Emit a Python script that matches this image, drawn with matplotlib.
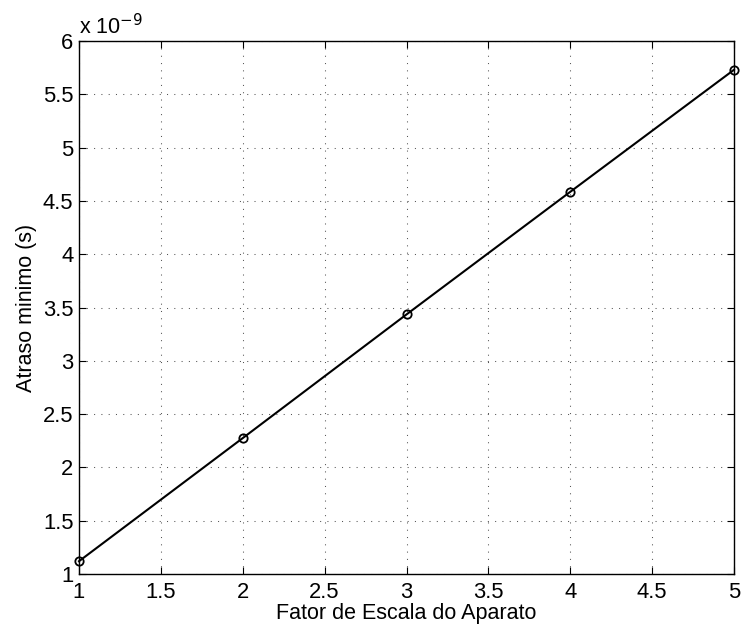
import matplotlib
matplotlib.use("Agg")
import matplotlib.pyplot as plt
from matplotlib.ticker import FuncFormatter, MultipleLocator

plt.rcParams['font.family'] = ['Liberation Sans', 'DejaVu Sans']

scale_factor = [1, 2, 3, 4, 5]
delay_s = [1.12e-9, 2.275e-9, 3.435e-9, 4.585e-9, 5.73e-9]

fs = 15.5
fig = plt.figure(figsize=(7.42, 6.28), dpi=100)
ax = fig.add_axes([79/742, 1 - 574/628, (734-79)/742, (574-41)/628])
ax.plot(scale_factor, delay_s, color='black', lw=1.5, marker='o', ms=6,
        mfc='none', mec='black', mew=1.3, clip_on=False, zorder=3)
ax.set_xlim(1, 5)
ax.set_ylim(1e-9, 6e-9)
ax.xaxis.set_major_locator(MultipleLocator(0.5))
ax.yaxis.set_major_locator(MultipleLocator(0.5e-9))
ax.xaxis.set_major_formatter(FuncFormatter(lambda v, p: f"{v:g}"))
ax.yaxis.set_major_formatter(FuncFormatter(lambda v, p: f"{v*1e9:g}"))
ax.xaxis.get_offset_text().set_visible(False)
ax.yaxis.get_offset_text().set_visible(False)
ax.grid(True, linestyle=(0, (1, 6)), color='#555555', lw=0.75)
ax.tick_params(direction='in', length=5, width=0.8, labelsize=15.8, top=True, right=True,
               labeltop=False, labelright=False)
ax.tick_params(axis='y', pad=4)
ax.tick_params(axis='x', pad=6)
for s in ax.spines.values():
    s.set_linewidth(1.0)
ax.set_xlabel('Fator de Escala do Aparato', fontsize=fs, labelpad=0)
ax.set_ylabel('Atraso minimo (s)', fontsize=fs, labelpad=4)
ax.text(0.0, 1.003, r'x 10$^{-9}$', transform=ax.transAxes, fontsize=fs,
        ha='left', va='bottom')
fig.savefig('out.png', dpi=100)
